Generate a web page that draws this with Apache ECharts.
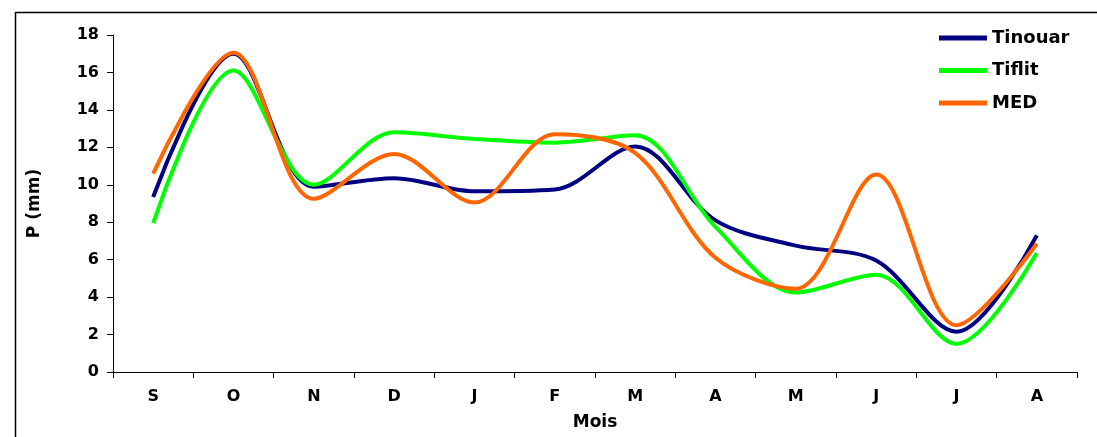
<!DOCTYPE html>
<html>
<head>
<meta charset="utf-8">
<script src="https://cdn.jsdelivr.net/npm/echarts@6/dist/echarts.min.js"></script>
<style>
html,body{margin:0;padding:0;background:#fff;}
#c{width:1097px;height:437px;}
</style>
</head>
<body>
<div id="c"></div>
<script>
const months = ['S','O','N','D','J','F','M','A','M','J','J','A'];
const yTicks = [0, 18, 2]; // min, max, interval
const tinouar = [9.35, 17.0, 9.9, 10.35, 9.65, 9.75, 12.05, 8.1, 6.75, 5.95, 2.15, 7.3];
const tiflit  = [7.95, 16.1, 10.0, 12.8, 12.45, 12.25, 12.65, 7.75, 4.25, 5.2, 1.5, 6.35];
const med     = [10.6, 17.05, 9.25, 11.65, 9.05, 12.7, 11.7, 6.1, 4.45, 10.55, 2.5, 6.85];

const FONT = 'DejaVu Sans';
const chart = echarts.init(document.getElementById('c'), null, {renderer:'canvas'});
function line(name, data, color){
  return {name, type:'line', data, smooth:0.33, showSymbol:false, symbol:'none',
    lineStyle:{color, width:4}, itemStyle:{color}, animation:false};
}
chart.setOption({
  backgroundColor:'#fff',
  animation:false,
  graphic:[{type:'rect', shape:{x:15.5, y:12.5, width:1200, height:600},
    style:{fill:null, stroke:'#000', lineWidth:1.5}, z:-1}],
  grid:{left:113, right:20, top:35, bottom:65, containLabel:false},
  legend:{orient:'vertical', left:934, top:23, itemWidth:48, itemHeight:5, itemGap:12.5,
    icon:'rect',
    textStyle:{fontFamily:FONT, fontWeight:'bold', fontSize:18, color:'#000', lineHeight:20},
    data:['Tinouar','Tiflit','MED']},
  xAxis:{type:'category', data:months, boundaryGap:true,
    name:'Mois', nameLocation:'middle', nameGap:42,
    nameTextStyle:{fontFamily:FONT, fontWeight:'bold', fontSize:17, color:'#000'},
    axisLine:{lineStyle:{color:'#000', width:1}},
    axisTick:{show:true, length:6, lineStyle:{color:'#000'}},
    axisLabel:{fontFamily:FONT, fontWeight:'bold', fontSize:16, color:'#000', margin:17},
    splitLine:{show:false}},
  yAxis:{type:'value', min:yTicks[0], max:yTicks[1], interval:yTicks[2],
    name:'P (mm)', nameLocation:'middle', nameGap:70, nameRotate:90,
    nameTextStyle:{fontFamily:FONT, fontWeight:'bold', fontSize:17, color:'#000'},
    axisLine:{show:true, lineStyle:{color:'#000', width:1}},
    axisTick:{show:true, length:6, lineStyle:{color:'#000'}},
    axisLabel:{fontFamily:FONT, fontWeight:'bold', fontSize:16, color:'#000', margin:14},
    splitLine:{show:false}},
  series:[line('Tinouar', tinouar, '#000080'), line('Tiflit', tiflit, '#00FF00'), line('MED', med, '#FF6600')]
});
</script>
</body>
</html>
